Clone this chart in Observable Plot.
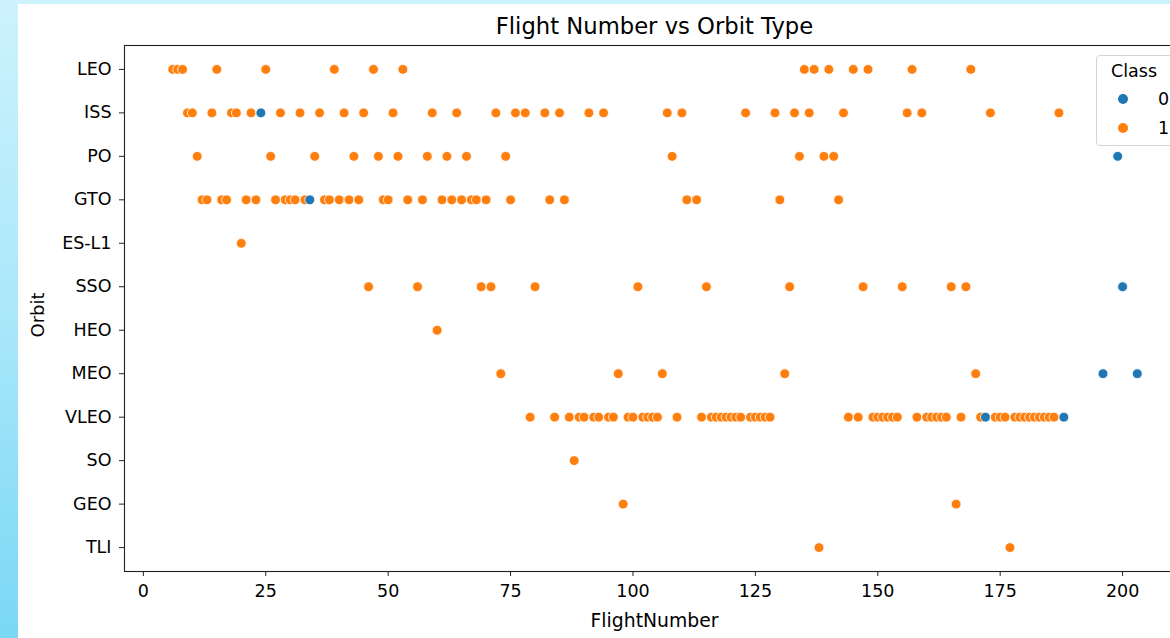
<!DOCTYPE html>
<html><head><meta charset="utf-8">
<script src="https://cdn.jsdelivr.net/npm/d3@7"></script>
<script src="https://cdn.jsdelivr.net/npm/@observablehq/plot@0.6"></script>
<style>
html,body{margin:0;padding:0;}
body{width:1170px;height:638px;overflow:hidden;position:relative;
  background:linear-gradient(to bottom,#cdf3fd 0%,#a9e7fa 50%,#7ad8f5 100%);
  font-family:"DejaVu Sans",sans-serif;color:#000;}
#panel{position:absolute;left:18px;top:4px;width:1200px;height:700px;background:#fff;}
#chart{position:absolute;left:0;top:0;width:1230px;height:638px;}
#chart svg{max-width:none !important;}
.lbl{position:absolute;line-height:1;white-space:nowrap;font-size:17.5px;color:#000;}
#title{position:absolute;left:124px;width:1061px;top:15px;text-align:center;font-size:22.7px;line-height:1;}
#legend{position:absolute;left:1096px;top:55px;width:94px;height:91px;box-sizing:border-box;
  border:1px solid #d4d4d4;border-radius:4px;background:rgba(255,255,255,0.85);}
</style></head><body>
<div id="panel"></div>
<div id="chart"></div>
<div id="title">Flight Number vs Orbit Type</div>
<div class="lbl" id="xlabel" style="left:124px;width:1061px;top:612px;text-align:center;font-size:18.8px;">FlightNumber</div>
<div class="lbl" id="ylabel" style="left:38px;top:315px;transform:translate(-50%,-50%) rotate(-90deg);font-size:18px;">Orbit</div>
<div id="legend"></div>
<script>
// ---- data ----
const orbits = ["LEO","ISS","PO","GTO","ES-L1","SSO","HEO","MEO","VLEO","SO","GEO","TLI"];
const leoFlights  = [6,7,8,15,25,39,47,53,135,137,140,145,148,157,169];
const issFlights  = [9,10,14,18,19,22,24,28,32,36,41,45,51,59,64,72,76,78,82,85,91,94,107,110,123,129,133,136,143,156,159,173,187];
const poFlights   = [11,26,35,43,48,52,58,62,66,74,108,134,139,141,199];
const gtoFlights  = [12,13,16,17,21,23,27,29,30,31,33,34,37,38,40,42,44,49,50,54,57,61,63,65,67,68,70,75,83,86,111,113,130,142];
const esl1Flights = [20];
const ssoFlights  = [46,56,69,71,80,101,115,132,147,155,165,168,200];
const heoFlights  = [60];
const meoFlights  = [73,97,106,131,170,196,203];
const vleoFlights = [79,84,87,89,90,92,93,95,96,99,100,102,103,104,105,109,114,116,117,118,119,120,121,122,124,125,126,127,128,144,146,149,150,151,152,153,154,158,160,161,162,163,164,167,171,172,174,175,176,178,179,180,181,182,183,184,185,186,188];
const soFlights   = [88];
const geoFlights  = [98,166];
const tliFlights  = [138,177];
// flights whose Class is 0 (all others are Class 1)
const failedFlights = [24,34,172,188,196,199,200,203];
const classes = ["0","1"];
const classColors = ["#1f77b4","#ff7f0e"];
const xTicks = [0,25,50,75,100,125,150,175,200];

const byOrbit = [leoFlights,issFlights,poFlights,gtoFlights,esl1Flights,ssoFlights,heoFlights,meoFlights,vleoFlights,soFlights,geoFlights,tliFlights];
const rows = [];
orbits.forEach((o,i)=>byOrbit[i].forEach(f=>rows.push({flight:f,orbit:o,cls:failedFlights.includes(f)?"0":"1"})));
rows.sort((a,b)=>a.flight-b.flight);

const xmin = d3.min(rows,d=>d.flight), xmax = d3.max(rows,d=>d.flight), pad=(xmax-xmin)*0.05;

const chart = Plot.plot({
  width:1230, height:638,
  marginLeft:124, marginRight:45, marginTop:45, marginBottom:67,
  style:{background:"transparent",fontFamily:"DejaVu Sans, sans-serif",fontSize:"17.5px",color:"#000",overflow:"visible",maxWidth:"none"},
  x:{domain:[xmin-pad,xmax+pad]},
  y:{type:"point",domain:orbits,padding:0.55,round:false},
  color:{domain:classes,range:classColors},
  marks:[
    Plot.axisX({ticks:xTicks,tickSize:5,tickPadding:8,label:null,stroke:"#222"}),
    Plot.axisY({tickSize:5,tickPadding:8,label:null,stroke:"#222"}),
    Plot.dot(rows,{x:"flight",y:"orbit",fill:"cls",r:4.9,stroke:"white",strokeWidth:0.8}),
    Plot.frame({stroke:"#222",strokeWidth:1.1})
  ]
});
document.getElementById("chart").appendChild(chart);

// legend
const lg = document.getElementById("legend");
const t = document.createElement("div");
t.className="lbl"; t.textContent="Class"; t.style.left="14px"; t.style.top="7px";
lg.appendChild(t);
classes.forEach((c,i)=>{
  const dot=document.createElement("div");
  dot.style.cssText=`position:absolute;left:21px;top:${38+i*29}px;width:10px;height:10px;border-radius:50%;background:${classColors[i]};`;
  lg.appendChild(dot);
  const tx=document.createElement("div");
  tx.className="lbl"; tx.textContent=c; tx.style.left="61px"; tx.style.top=`${35+i*29}px`;
  lg.appendChild(tx);
});
</script>
</body></html>
